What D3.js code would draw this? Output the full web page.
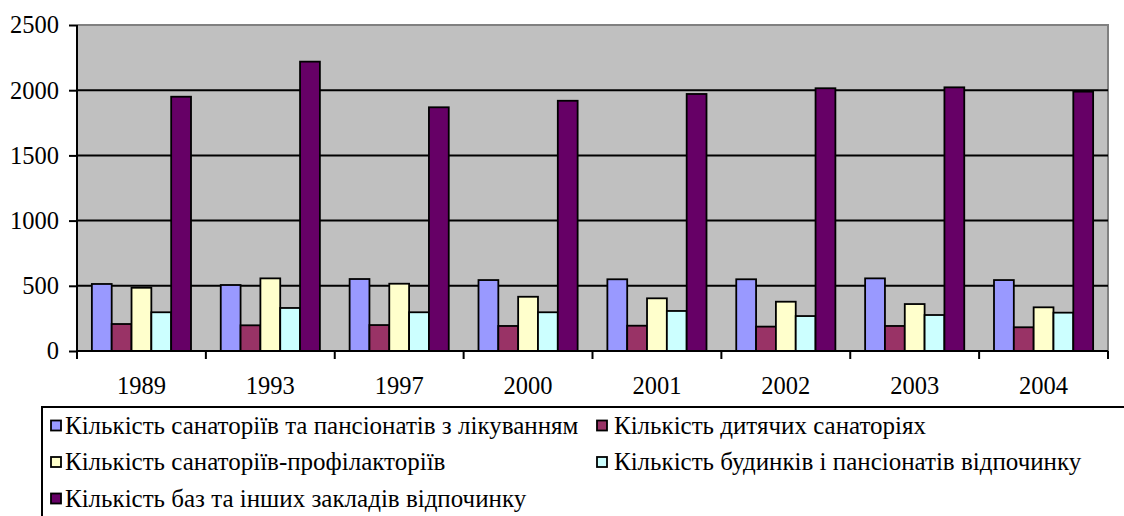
<!DOCTYPE html>
<html><head><meta charset="utf-8">
<script src="https://cdn.jsdelivr.net/npm/d3@7"></script>
<style>body{margin:0;background:#fff}svg{display:block}</style>
</head><body>
<svg id="c" width="1124" height="516"></svg>
<script>
const years = ["1989","1993","1997","2000","2001","2002","2003","2004"];
const seriesNames = [
  "Кількість санаторіїв та пансіонатів з лікуванням",
  "Кількість дитячих санаторіях",
  "Кількість санаторіїв-профілакторіїв",
  "Кількість будинків і пансіонатів відпочинку",
  "Кількість баз та інших закладів відпочинку"
];
const sanatoriums = [514, 506, 552, 544, 550, 550, 557, 544];
const childSanatoriums = [207, 197, 199, 192, 194, 187, 192, 182];
const prophylactoriums = [485, 557, 516, 416, 404, 378, 360, 335];
const restHouses = [297, 330, 297, 297, 307, 268, 276, 294];
const restBases = [1950, 2219, 1869, 1919, 1971, 2015, 2022, 1989];
const yTicks = [0, 500, 1000, 1500, 2000, 2500];
const colors = ["#9999FF", "#993366", "#FFFFCC", "#CCFFFF", "#660066"];

const seriesValues = [sanatoriums, childSanatoriums, prophylactoriums, restHouses, restBases];
const FONT = "'Liberation Serif', 'Times New Roman', serif";

const svg = d3.select("#c");
const L = 77, R = 1108, T = 25, B = 351;

const x = d3.scaleBand().domain(years).range([L, R]).padding(0);
const xs = d3.scaleBand().domain(d3.range(seriesNames.length)).range([0, x.bandwidth()]).paddingInner(0).paddingOuter(0.75);
const y = d3.scaleLinear().domain([0, 2500]).range([B, T]);

svg.append("rect").attr("x", L).attr("y", T).attr("width", R - L).attr("height", B - T).attr("fill", "#C0C0C0");
svg.append("path").attr("d", `M${L},${T}H${R}V${B}`).attr("fill", "none").attr("stroke", "#808080").attr("stroke-width", 2);

svg.append("g").selectAll("line").data(yTicks.filter(d => d > 0 && d < 2500)).join("line")
  .attr("x1", L).attr("x2", R).attr("y1", d => y(d)).attr("y2", d => y(d))
  .attr("stroke", "#000").attr("stroke-width", 2);

const g = svg.append("g");
seriesValues.forEach((vals, si) => {
  g.append("g").selectAll("rect").data(vals).join("rect")
    .attr("x", (d, i) => x(years[i]) + xs(si))
    .attr("y", d => y(d))
    .attr("width", xs.bandwidth())
    .attr("height", d => y(0) - y(d))
    .attr("fill", colors[si])
    .attr("stroke", "#000").attr("stroke-width", 1.8);
});

const yAxis = d3.axisLeft(y).tickValues(yTicks).tickSize(8).tickPadding(10).tickFormat(d3.format("d"));
const ya = svg.append("g").attr("transform", `translate(${L},0)`).call(yAxis);
ya.select(".domain").attr("stroke", "#000").attr("stroke-width", 2).attr("d", `M0,${T}V${B}`);
ya.selectAll(".tick line").attr("stroke", "#000").attr("stroke-width", 2);
ya.selectAll("text").style("font-family", FONT).style("font-size", "24.5px").attr("fill", "#000");

const xAxis = d3.axisBottom(x).tickSize(0).tickPadding(26);
const xa = svg.append("g").attr("transform", `translate(0,${B})`).call(xAxis);
xa.select(".domain").attr("stroke", "#000").attr("stroke-width", 2).attr("d", `M${L},0H${R}`);
xa.selectAll("text").style("font-family", FONT).style("font-size", "24.5px").attr("fill", "#000");
xa.append("g").selectAll("line").data(years.concat(["end"])).join("line")
  .attr("x1", (d, i) => i < years.length ? x(d) : R)
  .attr("x2", (d, i) => i < years.length ? x(d) : R)
  .attr("y1", 0).attr("y2", 8).attr("stroke", "#000").attr("stroke-width", 2);

const lg = svg.append("g");
lg.append("rect").attr("x", 42).attr("y", 407).attr("width", 1200).attr("height", 200)
  .attr("fill", "#fff").attr("stroke", "#000").attr("stroke-width", 2);
const legendPos = [
  {x: 51, y: 425.5, tx: 65}, {x: 597, y: 425.5, tx: 614},
  {x: 51, y: 462, tx: 65}, {x: 597, y: 462, tx: 614},
  {x: 51, y: 498.5, tx: 65}
];
seriesNames.forEach((name, i) => {
  const p = legendPos[i];
  lg.append("rect").attr("x", p.x).attr("y", p.y - 5).attr("width", 10).attr("height", 10)
    .attr("fill", colors[i]).attr("stroke", "#000").attr("stroke-width", 1.8);
  lg.append("text").attr("x", p.tx).attr("y", p.y).attr("dy", "0.33em")
    .style("font-family", FONT).style("font-size", "25px").attr("fill", "#000").text(name);
});
</script>
</body></html>
